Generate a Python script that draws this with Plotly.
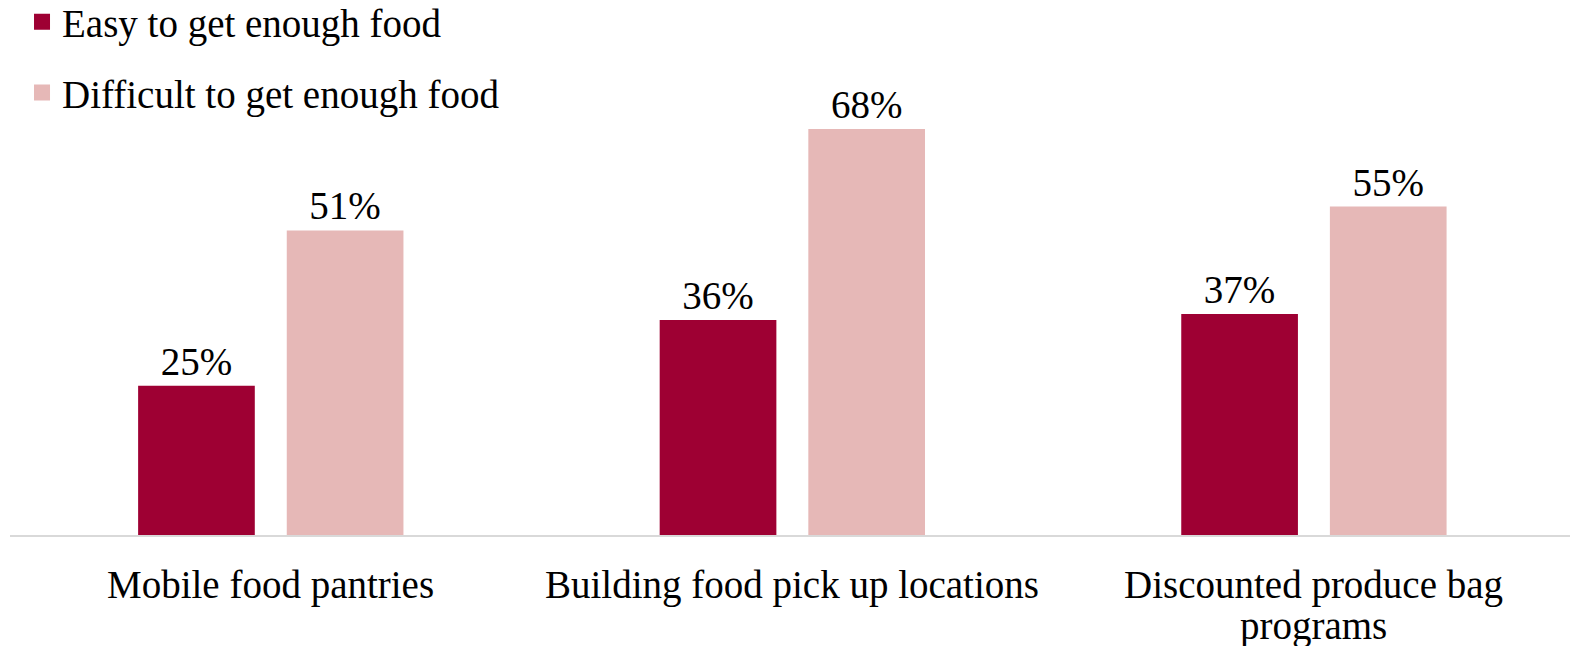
import plotly.graph_objects as go

categories = ["Mobile food pantries", "Building food pick up locations", "Discounted produce bag<br>programs"]
easy_values = [25, 36, 37]
difficult_values = [51, 68, 55]
series_names = ["Easy to get enough food", "Difficult to get enough food"]

FONT = "Liberation Serif"
SIZE = 39
DARK = "#9E0033"
LIGHT = "#E6B8B7"
PLOT_H = 535          # plot area height in px (t=0, b=111)
LINE_PX = [50, 91]    # distance below the axis of each label line's centre

fig = go.Figure()
for name, vals, color in [
    (series_names[0], easy_values, DARK),
    (series_names[1], difficult_values, LIGHT),
]:
    fig.add_trace(go.Bar(
        x=categories, y=vals, name=name, showlegend=False,
        marker=dict(color=color, line=dict(width=0)),
        text=[f"{v}%" for v in vals], textposition="outside",
        textfont=dict(family=FONT, size=SIZE, color="#000000"),
        cliponaxis=False,
    ))

# legend entries with larger square swatches
for name, color, grp in [(series_names[0], DARK, "a"), (series_names[1], LIGHT, "b")]:
    fig.add_trace(go.Scatter(
        x=[None], y=[None], mode="markers", name=name, legendgroup=grp,
        marker=dict(symbol="square", size=16, color=color),
    ))

# category labels, one annotation per line for tight line spacing
annotations = []
for cat in categories:
    for i, line in enumerate(cat.split("<br>")):
        annotations.append(dict(
            x=cat, xref="x", y=-LINE_PX[i] / PLOT_H, yref="paper",
            text=line, showarrow=False, xanchor="center", yanchor="middle",
            font=dict(family=FONT, size=SIZE, color="#000000"),
        ))

fig.update_layout(
    width=1570, height=646,
    margin=dict(l=10, r=0, t=0, b=111, autoexpand=False),
    paper_bgcolor="white", plot_bgcolor="white",
    barmode="group", bargap=0.43, bargroupgap=0.215,
    showlegend=True,
    legend=dict(
        x=0.0077, y=1.019, xanchor="left", yanchor="top",
        font=dict(family=FONT, size=SIZE, color="#000000"),
        tracegroupgap=17, itemwidth=30, bgcolor="rgba(0,0,0,0)",
    ),
    font=dict(family=FONT, size=SIZE, color="#000000"),
    annotations=annotations,
)
fig.update_xaxes(
    showline=True, linecolor="#D9D9D9", linewidth=2, automargin=False,
    showticklabels=False, ticks="",
    range=[-0.5, 2.491], showgrid=False,
)
fig.update_yaxes(visible=False, range=[0, 89.6], showgrid=False, automargin=False)

fig.write_html("out.html")
